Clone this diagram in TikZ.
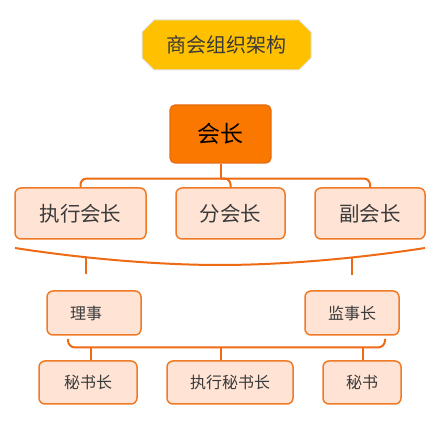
\documentclass[tikz,border=0pt]{standalone}
\usepackage{fontspec}
\setmainfont{Noto Sans CJK SC}
\usetikzlibrary{shapes.misc,calc}
\definecolor{ttlfill}{HTML}{FFC000}
\definecolor{ttlline}{HTML}{DDE3EE}
\definecolor{topfill}{HTML}{FA7800}
\definecolor{topline}{HTML}{E66C0C}
\definecolor{boxfill}{HTML}{FFE4D6}
\definecolor{boxline}{HTML}{F07A26}
\definecolor{conncol}{HTML}{EE6A14}
\definecolor{txt}{HTML}{3A3A3A}
\tikzset{
  titlebox/.style={chamfered rectangle, chamfered rectangle sep=6pt, fill=ttlfill, draw=ttlline, line width=1pt,
    minimum width=169pt, minimum height=50pt, inner sep=0pt, text=txt, font=\fontsize{20}{24}\selectfont},
  topbox/.style={rectangle, rounded corners=5pt, fill=topfill, draw=topline, line width=1.2pt,
    minimum width=101pt, minimum height=58pt, inner sep=0pt, text=black, font=\fontsize{23}{27}\selectfont},
  lbox/.style={rectangle, rounded corners=6pt, fill=boxfill, draw=boxline, line width=1.5pt,
    minimum height=51pt, inner sep=0pt, text=txt, font=\fontsize{20.5}{24}\selectfont},
  sbox/.style={rectangle, rounded corners=6pt, fill=boxfill, draw=boxline, line width=1.5pt,
    minimum height=44pt, inner sep=0pt, text=txt, font=\fontsize{16}{19}\selectfont},
  conn/.style={draw=conncol, line width=2pt}
}
\begin{document}
\begin{tikzpicture}[x=1pt,y=-1pt]
\useasboundingbox (0,0) rectangle (445,430);
% title
\node[titlebox] (title) at (226.5,45) {商会组织架构};
% top
\node[topbox] (hz) at (220.5,134) {会长};
% row 2
\node[lbox, minimum width=131pt] (b1) at (80.5,213.5) {执行会长};
\node[lbox, minimum width=109pt] (b2) at (230.5,213.5) {分会长};
\node[lbox, minimum width=110pt] (b3) at (370,213.5) {副会长};
% row 3
\node[sbox, minimum width=94pt] (ls) at (94,313) {理事\kern16pt\relax};
\node[sbox, minimum width=94pt] (js) at (352,313) {监事长};
% row 4
\node[sbox, minimum width=98pt, minimum height=43pt] (c1) at (88,382.5) {秘书长};
\node[sbox, minimum width=126pt, minimum height=43pt] (c2) at (230,382.5) {执行秘书长};
\node[sbox, minimum width=78pt, minimum height=43pt] (c3) at (362,382.5) {秘书};
% connector top
\coordinate (j1) at ($(hz.south)+(0,15)$);
\draw[conn] (hz.south) -- (j1);
\draw[conn, rounded corners=6pt] (b1.north) |- (j1) -| (b3.north);
\draw[conn, rounded corners=6pt] (j1) -| (b2.north);
% brace
\coordinate (bl) at (15,248);
\coordinate (bm) at (220,265);
\coordinate (br) at (425,248);
\draw[conn] (bl) .. controls (86,259) and (160,265) .. (bm) .. controls (280,265) and (354,259) .. (br);
\coordinate (s1a) at (86,257.5);
\coordinate (s1b) at (86,274);
\coordinate (s2a) at (352,257.5);
\coordinate (s2b) at (352,275);
\draw[conn] (s1a) -- (s1b);
\draw[conn] (s2a) -- (s2b);
% bottom bracket
\coordinate (k1) at (68,339);
\coordinate (k2) at (385,339);
\coordinate (km) at (221,347.5);
\coordinate (t1) at (91,347.5);
\coordinate (t3) at (363,347.5);
\draw[conn, rounded corners=7pt] (k1) |- (km) -| (k2);
\draw[conn] (c1.north -| t1) -- (t1);
\draw[conn] (c2.north -| km) -- (km);
\draw[conn] (c3.north -| t3) -- (t3);
\end{tikzpicture}
\end{document}
